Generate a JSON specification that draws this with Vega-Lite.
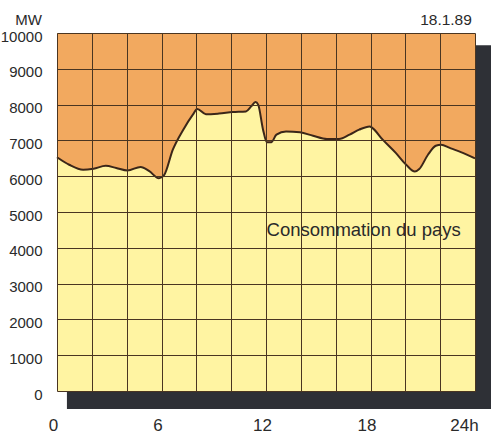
{
  "$schema": "https://vega.github.io/schema/vega-lite/v6.json",
  "width": 418,
  "height": 358,
  "autosize": "none",
  "padding": {"left": 57, "top": 33, "right": 16, "bottom": 44},
  "background": "#ffffff",
  "config": {"view": {"stroke": null}, "font": "Liberation Sans"},
  "encoding": {
    "x": {
      "field": "h", "type": "quantitative",
      "scale": {"domain": [0, 24], "nice": false, "zero": false},
      "axis": {
        "values": [0, 2, 4, 6, 8, 10, 12, 14, 16, 18, 20, 22, 24],
        "labelExpr": "datum.value % 6 == 0 ? (datum.value == 24 ? '24h' : datum.label) : ''",
        "grid": true, "gridColor": "#4a3521", "gridWidth": 1, "gridOpacity": 1,
        "ticks": false, "domain": false,
        "labelFontSize": 17, "labelColor": "#2a2a2a", "labelPadding": 26,
        "labelFlush": false,
        "labelOffset": {"condition": {"test": "datum.value == 24", "value": -11}, "value": -4},
        "title": null, "zindex": 1
      }
    },
    "y": {
      "field": "v", "type": "quantitative",
      "scale": {"domain": [0, 10000], "nice": false},
      "axis": {
        "values": [0, 1000, 2000, 3000, 4000, 5000, 6000, 7000, 8000, 9000, 10000],
        "format": "d",
        "grid": true, "gridColor": "#4a3521", "gridWidth": 1, "gridOpacity": 1,
        "ticks": false, "domain": false,
        "labelFontSize": 15, "labelColor": "#2a2a2a", "labelPadding": 15,
        "labelOffset": 3,
        "title": "MW", "titleAngle": 0, "titleAlign": "center", "titleBaseline": "middle",
        "titleX": -29, "titleY": -14, "titleFontSize": 15, "titleFontWeight": "normal",
        "titleColor": "#2a2a2a",
        "zindex": 1
      }
    }
  },
  "layer": [
    {
      "data": {"values": [{"h": 0.57, "h2": 24.95, "v": -500, "v2": 9660}]},
      "mark": {"type": "rect", "color": "#2e3036"},
      "encoding": {"x2": {"field": "h2"}, "y2": {"field": "v2"}}
    },
    {
      "data": {"values": [{"h": 0, "h2": 24, "v": 0, "v2": 10000}]},
      "mark": {"type": "rect", "color": "#f2a95f"},
      "encoding": {"x2": {"field": "h2"}, "y2": {"field": "v2"}}
    },
    {
      "data": {"name": "curve", "values": [
        {"h": 0, "v": 6530}, {"h": 0.7, "v": 6320}, {"h": 1.5, "v": 6180}, {"h": 2.1, "v": 6210},
        {"h": 2.8, "v": 6290}, {"h": 3.4, "v": 6230}, {"h": 4.05, "v": 6160}, {"h": 4.8, "v": 6260},
        {"h": 5.3, "v": 6140}, {"h": 5.85, "v": 5940}, {"h": 6.15, "v": 6030}, {"h": 6.65, "v": 6740},
        {"h": 7.25, "v": 7300}, {"h": 7.8, "v": 7720}, {"h": 8.05, "v": 7880}, {"h": 8.55, "v": 7730},
        {"h": 9.3, "v": 7750}, {"h": 10.1, "v": 7790}, {"h": 10.85, "v": 7810}, {"h": 11.15, "v": 7950},
        {"h": 11.4, "v": 8070}, {"h": 11.55, "v": 8000}, {"h": 11.83, "v": 7300}, {"h": 12.05, "v": 6950},
        {"h": 12.3, "v": 6950}, {"h": 12.6, "v": 7160}, {"h": 13.15, "v": 7250}, {"h": 13.95, "v": 7225},
        {"h": 14.7, "v": 7130}, {"h": 15.5, "v": 7040}, {"h": 16.2, "v": 7040}, {"h": 16.8, "v": 7160},
        {"h": 17.35, "v": 7300}, {"h": 17.95, "v": 7390}, {"h": 18.1, "v": 7350}, {"h": 18.7, "v": 7020},
        {"h": 19.45, "v": 6650}, {"h": 20.05, "v": 6320}, {"h": 20.55, "v": 6130}, {"h": 20.8, "v": 6200},
        {"h": 21.3, "v": 6600}, {"h": 21.75, "v": 6850}, {"h": 22.05, "v": 6880}, {"h": 22.55, "v": 6790},
        {"h": 23.3, "v": 6650}, {"h": 24, "v": 6500}
      ]},
      "layer": [
        {"mark": {"type": "area", "color": "#fff4a2", "interpolate": "monotone"}},
        {"mark": {"type": "line", "color": "#3b2619", "strokeWidth": 2, "interpolate": "monotone"}}
      ]
    },
    {
      "data": {"values": [{"h": 12.03, "v": 4500, "label": "Consommation du pays"}]},
      "mark": {"type": "text", "align": "left", "baseline": "middle", "fontSize": 18.5, "color": "#2a2a2a"},
      "encoding": {"text": {"field": "label"}}
    },
    {
      "data": {"values": [{"h": 23.82, "v": 10360, "label": "18.1.89"}]},
      "mark": {"type": "text", "align": "right", "baseline": "middle", "fontSize": 15.5, "color": "#2a2a2a"},
      "encoding": {"text": {"field": "label"}}
    }
  ]
}
